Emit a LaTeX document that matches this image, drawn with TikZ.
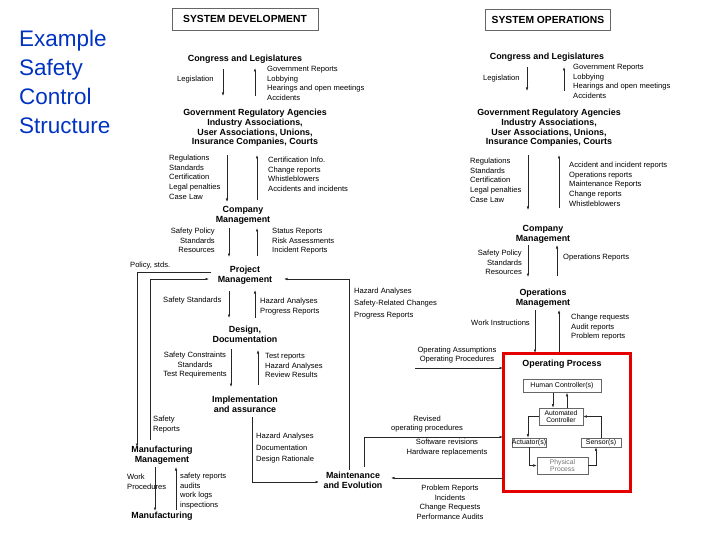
\documentclass[tikz,border=0pt]{standalone}
\usepackage{fontspec}
\setmainfont{Liberation Sans}
\usetikzlibrary{arrows.meta}
\tikzset{
  sm/.style={font=\fontsize{7.6}{9.6}\selectfont, inner sep=0pt, align=left},
  smr/.style={sm, align=right},
  smc/.style={sm, align=center},
  bd/.style={font=\fontsize{8.9}{9.8}\selectfont\bfseries, inner sep=0pt, align=center},
  ln/.style={line width=0.6pt, draw=black!85},
  ar/.style={ln, -{Latex[length=3.5pt,width=2.5pt]}},
  sbox/.style={draw=black!60, line width=0.6pt, font=\fontsize{7}{7.5}\selectfont, inner sep=1pt, align=center}
}
\begin{document}
\begin{tikzpicture}[x=1pt,y=-1pt]
\useasboundingbox (0,0) rectangle (720,540);
\fill[white] (0,0) rectangle (720,540);
% title
\node[anchor=north west, text=blue!70!black!80!cyan, font=\fontsize{22.5}{29}\selectfont, align=left, inner sep=0pt] (title) at (19,30) {Example\\Safety\\Control\\Structure};

% ===== LEFT: SYSTEM DEVELOPMENT =====
\node[draw=black!60, line width=0.6pt, minimum width=146pt, minimum height=22pt, font=\fontsize{10.3}{11}\selectfont\bfseries] (sd) at (245,19) {SYSTEM DEVELOPMENT};
\node[bd] (lcong) at (245,59) {Congress and Legislatures};
\node[sm, anchor=west] (lleg) at (177,80) {Legislation};
\node[sm, anchor=north west] (lgr) at (267,66) {Government Reports\\Lobbying\\Hearings and open meetings\\Accidents};
\node[bd] (lgov) at (255,128) {Government Regulatory Agencies\\Industry Associations,\\User Associations, Unions,\\Insurance Companies, Courts};
\coordinate (a1) at (223,69); \coordinate (a2) at (223,96);
\draw[ar] (a1) -- (a2);
\coordinate (a3) at (255,96); \coordinate (a4) at (255,68);
\draw[ar] (a3) -- (a4);

\node[sm, anchor=north west] (lreg) at (169,155) {Regulations\\Standards\\Certification\\Legal penalties\\Case Law};
\node[sm, anchor=north west] (lcert) at (268,157) {Certification Info.\\Change reports\\Whistleblowers\\Accidents and incidents};
\coordinate (b1) at (227,155); \coordinate (b2) at (227,202);
\draw[ar] (b1) -- (b2);
\coordinate (b3) at (257,200); \coordinate (b4) at (257,155);
\draw[ar] (b3) -- (b4);

\node[bd] (lcm) at (243,215) {Company\\Management};
\node[smr, anchor=north east] (lsp) at (215,228) {Safety Policy\\Standards\\Resources};
\node[sm, anchor=north west] (lsr) at (272,228) {Status Reports\\Risk Assessments\\Incident Reports};
\coordinate (c1) at (229,228); \coordinate (c2) at (229,257);
\draw[ar] (c1) -- (c2);
\coordinate (c3) at (257,256); \coordinate (c4) at (257,228);
\draw[ar] (c3) -- (c4);

\node[sm, anchor=west] (pstds) at (130,266) {Policy, stds.};
\node[bd] (pm) at (245,275) {Project\\Management};

% Design
\node[sm, anchor=west] (lss) at (163,301) {Safety Standards};
\node[sm, anchor=north west] (lha) at (260,298) {Hazard Analyses\\Progress Reports};
\coordinate (d1) at (229,291); \coordinate (d2) at (229,318);
\draw[ar] (d1) -- (d2);
\coordinate (d3) at (255,318); \coordinate (d4) at (255,290);
\draw[ar] (d3) -- (d4);
\node[bd] (dd) at (245,334) {Design,\\Documentation};

\node[smc, anchor=north] (lsc) at (195,352) {Safety Constraints\\Standards\\Test Requirements};
\node[sm, anchor=north west] (ltr) at (265,353) {Test reports\\Hazard Analyses\\Review Results};
\coordinate (e1) at (231,349); \coordinate (e2) at (231,387);
\draw[ar] (e1) -- (e2);
\coordinate (e3) at (258,385); \coordinate (e4) at (258,350);
\draw[ar] (e3) -- (e4);
\node[bd] (ia) at (245,404) {Implementation\\and assurance};

\node[sm, anchor=north west] (lsafr) at (153,416) {Safety\\Reports};
\node[sm, anchor=north west] (lhad) at (256,433) {Hazard Analyses\\[2pt]Documentation\\[2pt]Design Rationale};

\node[bd] (mm) at (162,455) {Manufacturing\\Management};
\node[sm, anchor=north west] (lwp) at (127,474) {Work\\Procedures};
\node[sm, anchor=north west] (lsfr) at (180,473) {safety reports\\audits\\work logs\\inspections};
\coordinate (f1) at (155,467); \coordinate (f2) at (155,511);
\draw[ar] (f1) -- (f2);
\coordinate (f3) at (176,510); \coordinate (f4) at (176,467);
\draw[ar] (f3) -- (f4);
\node[bd] (mf) at (162,516) {Manufacturing};

\node[bd] (me) at (353,480) {Maintenance\\and Evolution};

% big loops
\coordinate (g1) at (211,272); \coordinate (g2) at (137,272); \coordinate (g3) at (137,447);
\draw[ar] (g1) -- (g2) -- (g3);
\coordinate (h1) at (150,440); \coordinate (h2) at (150,279); \coordinate (h3) at (209,279);
\draw[ar] (h1) -- (h2) -- (h3);
\coordinate (k1) at (349,470); \coordinate (k2) at (349,279); \coordinate (k3) at (284,279);
\draw[ar] (k1) -- (k2) -- (k3);
\coordinate (m1) at (252,417); \coordinate (m2) at (252,482); \coordinate (m3) at (319,482);
\draw[ar] (m1) -- (m2) -- (m3);

% ===== RIGHT: SYSTEM OPERATIONS =====
\node[draw=black!60, line width=0.6pt, minimum width=125pt, minimum height=21pt, font=\fontsize{10.3}{11}\selectfont\bfseries] (so) at (548,20) {SYSTEM OPERATIONS};
\node[bd] (rcong) at (547,57) {Congress and Legislatures};
\node[sm, anchor=west] (rleg) at (483,79) {Legislation};
\node[sm, anchor=north west] (rgr) at (573,64) {Government Reports\\Lobbying\\Hearings and open meetings\\Accidents};
\coordinate (n1) at (527,67); \coordinate (n2) at (527,91);
\draw[ar] (n1) -- (n2);
\coordinate (n3) at (564,91); \coordinate (n4) at (564,67);
\draw[ar] (n3) -- (n4);
\node[bd] (rgov) at (549,128) {Government Regulatory Agencies\\Industry Associations,\\User Associations, Unions,\\Insurance Companies, Courts};

\node[sm, anchor=north west] (rreg) at (470,158) {Regulations\\Standards\\Certification\\Legal penalties\\Case Law};
\node[sm, anchor=north west] (racc) at (569,162) {Accident and incident reports\\Operations reports\\Maintenance Reports\\Change reports\\Whistleblowers};
\coordinate (p1) at (528,155); \coordinate (p2) at (528,210);
\draw[ar] (p1) -- (p2);
\coordinate (p3) at (559,208); \coordinate (p4) at (559,155);
\draw[ar] (p3) -- (p4);
\node[bd] (rcm) at (543,234) {Company\\Management};
\node[smr, anchor=north east] (rsp) at (522,250) {Safety Policy\\Standards\\Resources};
\node[sm, anchor=west] (ror) at (563,258) {Operations Reports};
\coordinate (q1) at (528,245); \coordinate (q2) at (528,277);
\draw[ar] (q1) -- (q2);
\coordinate (q3) at (557,276); \coordinate (q4) at (557,245);
\draw[ar] (q3) -- (q4);
\node[bd] (om) at (543,298) {Operations\\Management};

\node[sm, anchor=north west] (rhaz) at (354,288) {Hazard Analyses\\[2.5pt]Safety-Related Changes\\[2.5pt]Progress Reports};
\node[sm, anchor=east] (rwi) at (530,323) {Work Instructions};
\node[sm, anchor=north west] (rcr) at (571,314) {Change requests\\Audit reports\\Problem reports};
\coordinate (r1) at (535,310); \coordinate (r2) at (535,353);
\draw[ar] (r1) -- (r2);
\coordinate (r3) at (559,353); \coordinate (r4) at (559,310);
\draw[ar] (r3) -- (r4);

\node[smc] (roa) at (457,355) {Operating Assumptions\\Operating Procedures};
\coordinate (s1) at (415,368); \coordinate (s2) at (503,368);
\draw[ar] (s1) -- (s2);

% red box
\node[draw=red!90!black, line width=3pt, minimum width=127pt, minimum height=138pt, inner sep=0pt] (op) at (566.5,422) {};
\node[bd] (opt) at (562,364) {Operating Process};
\node[sbox, minimum width=78pt, minimum height=13pt] (hc) at (562,386) {Human Controller(s)};
\node[sbox, minimum width=44pt, minimum height=17pt, inner sep=0pt, font=\fontsize{6.8}{7}\selectfont] (ac) at (561,416.5) {Automated\\Controller};
\node[sbox, minimum width=30pt, minimum height=9pt, inner sep=0pt] (act) at (529,442.5) {Actuator(s)};
\node[sbox, minimum width=40pt, minimum height=9pt, inner sep=0pt] (sen) at (601,442.5) {Sensor(s)};
\node[sbox, minimum width=51pt, minimum height=17pt, inner sep=0pt, text=black!55, font=\fontsize{6.8}{7}\selectfont] (pp) at (562.5,465.5) {Physical\\Process};
\draw[ar, line width=0.5pt] (hc.south -| 553,0) -- (ac.north -| 553,0);
\draw[ar, line width=0.5pt] (ac.north -| 567,0) -- (hc.south -| 567,0);
\draw[ar, line width=0.5pt] (ac.west) -| (act.north -| 528,0);
\draw[ar, line width=0.5pt] (act.south -| 529,0) |- (pp.west);
\draw[ar, line width=0.5pt] (pp.east) -| (sen.south -| 596,0);
\draw[ar, line width=0.5pt] (sen.north) |- (ac.east);

\node[smc] (rrev) at (427,424) {Revised\\operating procedures};
\node[smc] (rsw) at (447,447.5) {Software revisions\\Hardware replacements};
\coordinate (t1) at (364,467); \coordinate (t2) at (364,437); \coordinate (t3) at (503,437);
\draw[ar] (t1) -- (t2) -- (t3);
\coordinate (u1) at (503,478); \coordinate (u2) at (391,478);
\draw[ar] (u1) -- (u2);
\node[smc, anchor=north] (rpr) at (450,485) {Problem Reports\\Incidents\\Change Requests\\Performance Audits};
\end{tikzpicture}
\end{document}
